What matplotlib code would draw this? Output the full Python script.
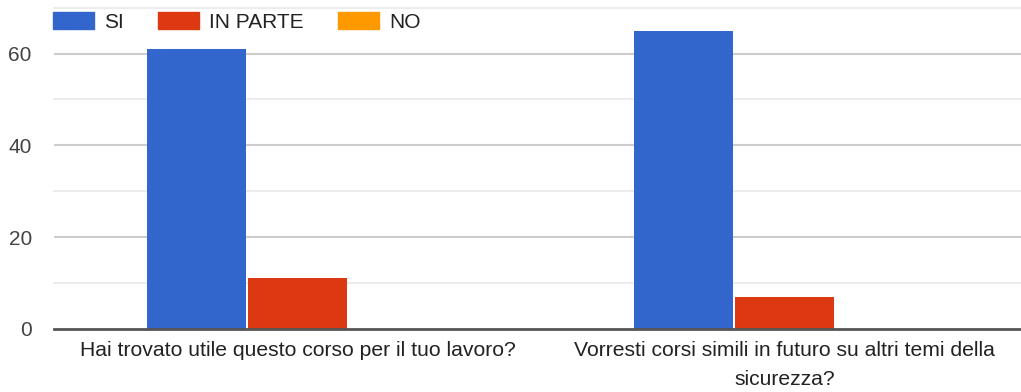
import matplotlib
matplotlib.use("Agg")
import matplotlib.pyplot as plt
import numpy as np
from matplotlib.patches import Patch

plt.rcParams['font.family'] = ['Liberation Sans', 'DejaVu Sans']

categories = ["Hai trovato utile questo corso per il tuo lavoro?",
              "Vorresti corsi simili in futuro su altri temi della\nsicurezza?"]
series_names = ["SI", "IN PARTE", "NO"]
si_values = [61, 65]
in_parte_values = [11, 7]
no_values = [0, 0]
colors = ["#3366CC", "#DC3912", "#FF9900"]
y_ticks = [0, 20, 40, 60]

W, H = 1021, 392
fig = plt.figure(figsize=(W / 100, H / 100), dpi=100)
ax = fig.add_axes([54 / W, (H - 329) / H, 974 / W, (329 - 7.6) / H])

x = np.arange(len(categories))
bw = 0.203
step = 0.2074
for i, (vals, name, c) in enumerate(zip([si_values, in_parte_values, no_values], series_names, colors)):
    ax.bar(x + (i - 1) * step, vals, width=bw, color=c, label=name, zorder=3)

ax.set_xlim(-0.5, 1.5)
ax.set_ylim(0, 70)
for v in range(10, 71, 20):
    ax.axhline(v, color="#ebebeb", lw=1.3, zorder=1, clip_on=False)
for v in y_ticks[1:]:
    ax.axhline(v, color="#cccccc", lw=1.5, zorder=1)
ax.axhline(0, color="#555555", lw=2, zorder=4, clip_on=False)

ax.set_yticks(y_ticks)
ax.set_yticklabels([str(t) for t in y_ticks])
ax.set_xticks(x)
ax.set_xticklabels(categories, linespacing=1.66)
ax.tick_params(axis='y', length=0, pad=16, labelsize=15, labelcolor="#444444")
ax.tick_params(axis='x', length=0, pad=9, labelsize=15.2, labelcolor="#222222")
for s in ax.spines.values():
    s.set_visible(False)

handles = [Patch(facecolor=c, edgecolor=c) for c in colors]
fig.legend(handles, series_names, loc='upper left', bbox_to_anchor=(53 / W, 1 - 12 / H),
           ncol=3, frameon=False, fontsize=15, handlelength=1.95, handleheight=0.9,
           handletextpad=0.5, columnspacing=1.65, borderpad=0, borderaxespad=0,
           labelcolor="#222222")

fig.savefig("out.png", dpi=100, facecolor="white")
